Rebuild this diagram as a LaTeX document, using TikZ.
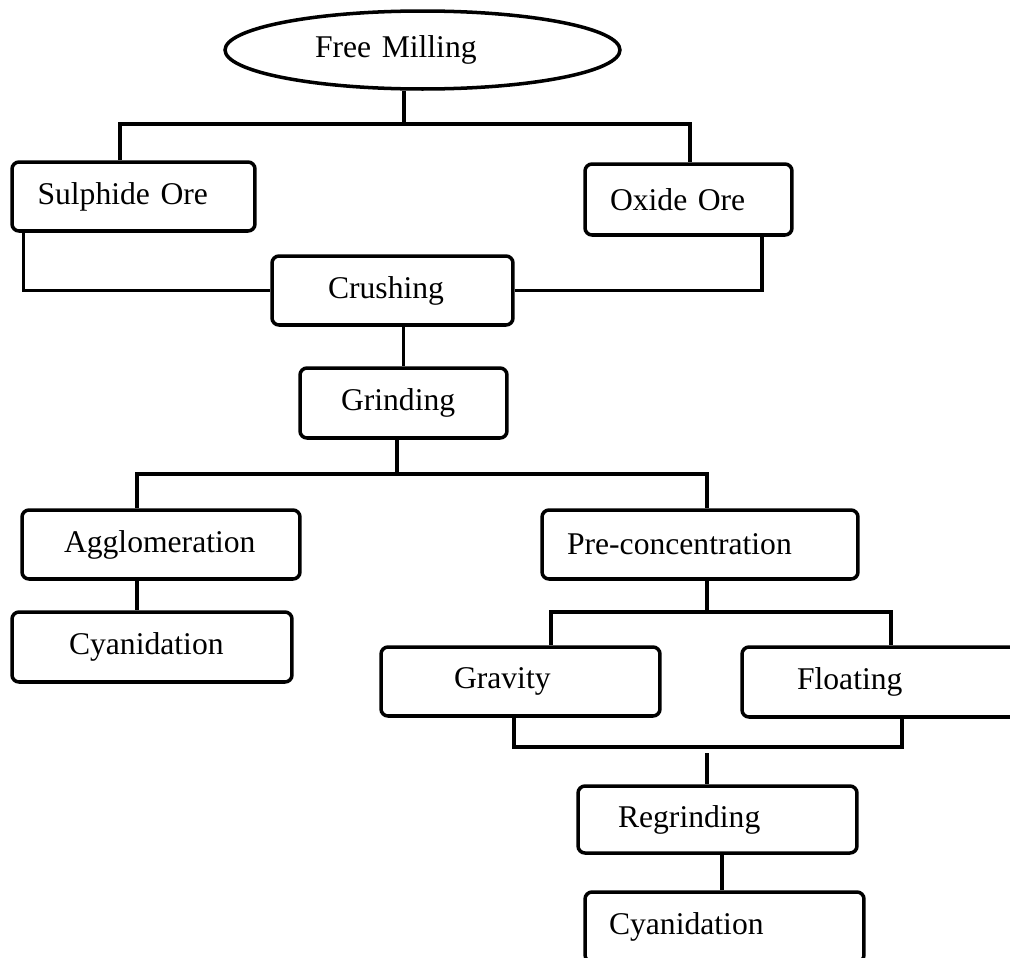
\documentclass[tikz,border=0pt]{standalone}
\usepackage{fontspec}
\setmainfont{Liberation Serif}
\usepackage{tikz}
\usetikzlibrary{shapes.geometric}

\begin{document}
\begin{tikzpicture}[x=0.02cm, y=-0.02cm,
    font=\fontsize{18}{21}\selectfont,
    box/.style={draw, rounded corners=4pt, line width=2pt, align=left, inner ysep=0pt},
    link/.style={line width=2pt}]
    \useasboundingbox (0,0) rectangle (1010,957);
    \clip (0,0) rectangle (1010,957);

    % Top
    \node[draw, ellipse, line width=2pt, minimum width=7.9cm, minimum height=1.56cm,
        inner sep=0pt, text width=4.3cm, align=left] (mill) at (422.5,50) {Free Milling};

    % Ores
    \node[box, minimum height=1.38cm, inner xsep=0.51cm, text width=3.84cm] (sulph) at (133.5,196.5) {Sulphide Ore};
    \node[box, minimum height=1.42cm, inner xsep=0.5cm, text width=3.14cm] (oxide) at (688.5,199.5) {Oxide Ore};

    % Crushing and grinding
    \node[box, minimum height=1.38cm, inner xsep=1.12cm, text width=2.58cm] (crush) at (392.5,290.5) {Crushing};
    \node[box, minimum height=1.4cm, inner xsep=0.82cm, text width=2.5cm] (grind) at (403.5,403) {Grinding};

    % Left branch
    \node[box, minimum height=1.38cm, inner xsep=0.84cm, text width=3.88cm] (agglo) at (161,544.5) {Agglomeration};
    \node[box, minimum height=1.4cm, inner xsep=1.14cm, text width=3.32cm] (cyanA) at (152,647) {Cyanidation};

    % Right branch
    \node[box, minimum height=1.38cm, inner xsep=0.5cm, text width=5.32cm] (precon) at (700,544.5) {Pre-concentration};
    \node[box, minimum height=1.38cm, inner xsep=1.46cm, text width=2.66cm] (grav) at (520.5,681.5) {Gravity};
    \node[box, minimum height=1.4cm, inner xsep=1.1cm, text width=3.4cm] (float) at (882,682) {Floating};
    \node[box, minimum height=1.34cm, inner xsep=0.8cm, text width=3.98cm] (regrind) at (717.5,819.5) {Regrinding};
    \node[box, minimum height=1.4cm, inner xsep=0.48cm, text width=4.62cm] (cyanB) at (724.5,927) {Cyanidation};

    % Bus lines
    \coordinate (busA) at (404,124);
    \coordinate (busAl) at (120,124);
    \coordinate (busAr) at (690,124);
    \coordinate (busB) at (397,474);
    \coordinate (busBl) at (137,474);
    \coordinate (busBr) at (707,474);
    \coordinate (busC) at (707,612);
    \coordinate (busCl) at (551,612);
    \coordinate (busCr) at (891,612);
    \coordinate (busDl) at (514,747);
    \coordinate (busDr) at (902,747);
    \coordinate (busD) at (707,753);

    % Connectors
    \draw[link] (busA |- mill.south) -- (busA);
    \draw[link] (busAl |- sulph.north) -- (busAl) -- (busAr) -- (busAr |- oxide.north);
    \draw[link] ([xshift=0.26cm]sulph.south west) |- (crush.west);
    \draw[link] ([xshift=-0.64cm]oxide.south east) |- (crush.east);
    \draw[link] (grind.north |- crush.south) -- (grind.north);
    \draw[link] (busB |- grind.south) -- (busB);
    \draw[link] (busBl |- agglo.north) -- (busBl) -- (busBr) -- (busBr |- precon.north);
    \draw[link] (busBl |- agglo.south) -- (busBl |- cyanA.north);
    \draw[link] (busC |- precon.south) -- (busC);
    \draw[link] (busCl |- grav.north) -- (busCl) -- (busCr) -- (busCr |- float.north);
    \draw[link] (busDl |- grav.south) -- (busDl) -- (busDr) -- (busDr |- float.south);
    \draw[link] (busD) -- (busD |- regrind.north);
    \draw[link] ([xshift=0.09cm]regrind.south) -- ([xshift=0.09cm]regrind.south |- cyanB.north);
\end{tikzpicture}
\end{document}
